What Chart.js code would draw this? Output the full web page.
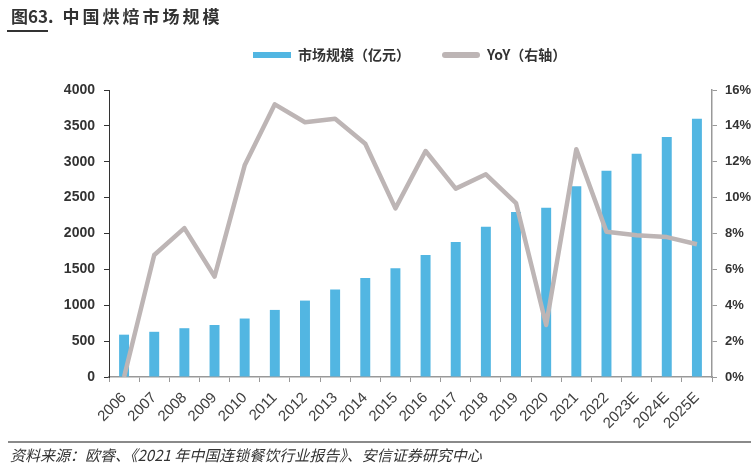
<!DOCTYPE html>
<html>
<head>
<meta charset="utf-8">
<script src="https://cdn.jsdelivr.net/npm/chart.js@4"></script>
<style>
  body { margin: 0; background: #fff; }
  #wrap { position: relative; width: 751px; height: 465px; overflow: hidden; }
  #chart { position: absolute; left: 0; top: 0; }
  .title { position: absolute; left: 11px; top: 6px; font: 700 17px/20px "Noto Sans CJK SC"; color: #333; white-space: nowrap; }
  .title .rest { letter-spacing: 3px; margin-left: 2px; }
  .underline { position: absolute; left: 7px; top: 30px; width: 41px; height: 1.5px; background: #333; }
  .rule { position: absolute; left: 8px; top: 441px; width: 743px; height: 1.5px; background: #8a8a8a; }
  .source { position: absolute; left: 10px; top: 447px; padding-right: 8px; font: italic 15px/16px "Noto Sans CJK SC"; color: #333; white-space: nowrap; }
</style>
</head>
<body>
<div id="wrap">
  <canvas id="chart" width="751" height="465"></canvas>
  <div class="title">图63.<span class="rest"> 中国烘焙市场规模</span></div>
  <div class="underline"></div>
  <div class="rule"></div>
  <div class="source">资料来源：欧睿、《2021 年中国连锁餐饮行业报告》、安信证券研究中心&nbsp;</div>
</div>
<script>
const years = ["2006", "2007", "2008", "2009", "2010", "2011", "2012", "2013", "2014", "2015",
  "2016", "2017", "2018", "2019", "2020", "2021", "2022", "2023E", "2024E", "2025E"];
const marketSize = [590, 630, 680, 725, 815, 935, 1065, 1220, 1380, 1515,
  1700, 1880, 2095, 2300, 2360, 2660, 2875, 3110, 3345, 3600];
const yoy = [0, 6.8, 8.3, 5.6, 11.8, 15.2, 14.2, 14.4, 13.0, 9.4,
  12.6, 10.5, 11.3, 9.7, 2.9, 12.7, 8.1, 7.9, 7.8, 7.4];

const blue = "#52B6E2";
const grey = "#BDB5B5";

// nudge the legend: the original sits left of centre, well above the plot
const legendShift = {
  id: "legendShift",
  afterLayout(chart) {
    chart.legend.left = 221;
    chart.legend.top = 16;
  },
};

new Chart(document.getElementById("chart"), {
  type: "bar",
  data: {
    labels: years,
    datasets: [
      {
        label: "市场规模（亿元）",
        data: marketSize,
        backgroundColor: blue,
        barPercentage: 0.33,
        categoryPercentage: 1,
        yAxisID: "y",
        order: 1,
      },
      {
        type: "line",
        label: "YoY（右轴）",
        data: yoy,
        borderColor: grey,
        backgroundColor: grey,
        borderWidth: 4.5,
        pointRadius: 0,
        tension: 0,
        borderJoinStyle: "round",
        yAxisID: "y1",
        order: 0,
      },
    ],
  },
  options: {
    responsive: false,
    animation: false,
    layout: { padding: { top: 34, left: 0, right: 0, bottom: 0 } },
    plugins: {
      tooltip: { enabled: false },
      legend: {
        position: "top",
        align: "start",
        labels: {
          boxWidth: 38,
          boxHeight: 6,
          padding: 32,
          color: "#333",
          font: { family: "Noto Sans CJK SC", size: 14, weight: "bold" },
          sort: (a, b) => a.datasetIndex - b.datasetIndex,
          generateLabels: (chart) =>
            Chart.defaults.plugins.legend.labels.generateLabels(chart).map((item) => ({
              ...item,
              lineWidth: 0,
              borderRadius: item.datasetIndex === 1 ? 3 : 0,
            })),
        },
      },
    },
    scales: {
      x: {
        offset: true,
        grid: { offset: true, drawOnChartArea: false, tickLength: 5, tickColor: "#999" },
        border: { color: "#999", width: 1.5 },
        ticks: {
          minRotation: 45,
          maxRotation: 45,
          padding: 7,
          color: "#404040",
          font: { family: "Liberation Sans", size: 15 },
        },
        afterFit: (scale) => { scale.height = 88; },
      },
      y: {
        position: "left",
        min: 0,
        max: 4000,
        ticks: {
          stepSize: 500,
          padding: 9,
          color: "#333",
          font: { family: "Liberation Sans", size: 14, weight: "bold" },
          callback: (v) => String(v),
        },
        grid: { drawOnChartArea: false, tickLength: 5, tickColor: "#333" },
        border: { color: "#333", width: 1 },
        afterFit: (scale) => { scale.width = 109; },
      },
      y1: {
        position: "right",
        min: 0,
        max: 16,
        ticks: {
          stepSize: 2,
          padding: 8,
          color: "#333",
          font: { family: "Liberation Sans", size: 13, weight: "bold" },
          callback: (v) => v + "%",
        },
        grid: { drawOnChartArea: false, tickLength: 5, tickColor: "#999" },
        border: { color: "#999", width: 1.5 },
        afterFit: (scale) => { scale.width = 39; },
      },
    },
  },
  plugins: [legendShift],
});
</script>
</body>
</html>
